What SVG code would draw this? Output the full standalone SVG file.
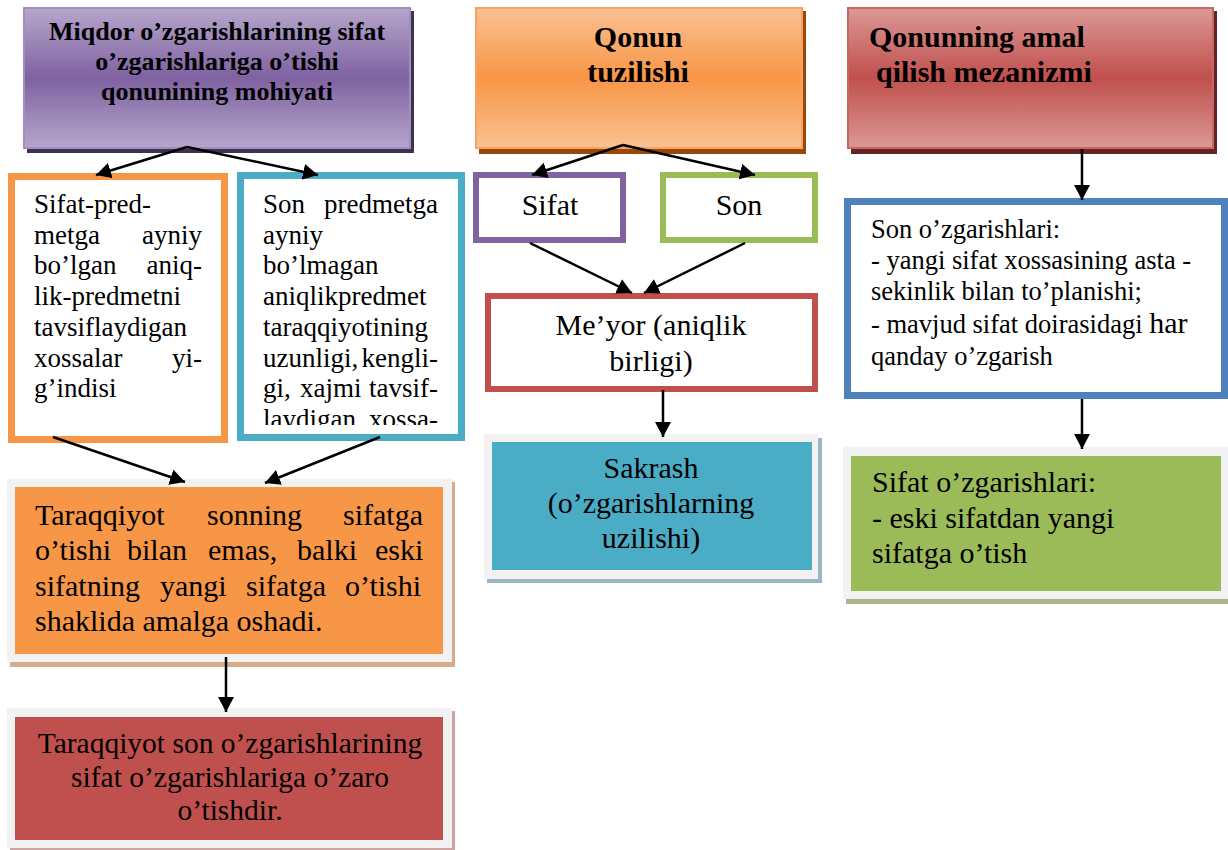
<svg xmlns="http://www.w3.org/2000/svg" width="1228" height="850" viewBox="0 0 1228 850">
<defs>
<style>
text{font-family:"Liberation Serif","Times New Roman",serif;fill:#000}
.b{font-weight:bold}
.t27{font-size:27px}
.t30{font-size:30px}
.c{text-anchor:middle}
.e{text-anchor:end}
.conn path{fill:none;stroke:#000;stroke-width:2.5;marker-end:url(#ah)}
</style>
<linearGradient id="gP" x1="0" y1="0" x2="0" y2="1"><stop offset="0" stop-color="#B6A6CB"/><stop offset="0.5" stop-color="#7F62A1"/><stop offset="1" stop-color="#B6A6CB"/></linearGradient>
<linearGradient id="gO" x1="0" y1="0" x2="0" y2="1"><stop offset="0" stop-color="#FAC192"/><stop offset="0.5" stop-color="#F79646"/><stop offset="1" stop-color="#FAC192"/></linearGradient>
<linearGradient id="gR" x1="0" y1="0" x2="0" y2="1"><stop offset="0" stop-color="#DB9896"/><stop offset="0.5" stop-color="#C0504D"/><stop offset="1" stop-color="#DB9896"/></linearGradient>
<marker id="ah" markerUnits="userSpaceOnUse" markerWidth="16" markerHeight="16" refX="15" refY="8" orient="auto"><path d="M0,0 L15,8 L0,16 z" fill="#000"/></marker>
<clipPath id="clipSon"><rect x="240" y="160" width="225" height="265"/></clipPath>
</defs>

<g id="n-mohiyat">
<rect x="27" y="11" width="387" height="142" fill="#3F3151"/>
<rect x="24" y="8" width="386" height="140" fill="url(#gP)" stroke="#A28DBF" stroke-width="2"/>
<text class="b c" style="font-size:26px" x="217" y="40">Miqdor o’zgarishlarining sifat</text>
<text class="b c" style="font-size:26px" x="217" y="70">o’zgarishlariga o’tishi</text>
<text class="b c" style="font-size:26px" x="217" y="100">qonunining mohiyati</text>
</g>

<g id="n-tuzilishi">
<rect x="479" y="11" width="327" height="143" fill="#984807"/>
<rect x="476" y="8" width="326" height="140" fill="url(#gO)" stroke="#F7A262" stroke-width="2"/>
<text class="b c t30" x="638" y="47">Qonun</text>
<text class="b c t30" x="638" y="82">tuzilishi</text>
</g>

<g id="n-mexanizm">
<rect x="851" y="11" width="366" height="143" fill="#632523"/>
<rect x="848" y="8" width="365" height="140" fill="url(#gR)" stroke="#C96563" stroke-width="2"/>
<text class="b t30" x="869" y="47">Qonunning amal</text>
<text class="b t30" x="876" y="82">qilish mezanizmi</text>
</g>

<g id="n-sifat-pred">
<rect x="11.5" y="176.5" width="213" height="263" fill="#fff" stroke="#F79646" stroke-width="7"/>
<text class="t27" x="34" y="213">Sifat-pred-</text>
<text class="t27" x="34" y="243.7">metga</text><text class="t27 e" x="202" y="243.7">ayniy</text>
<text class="t27" x="34" y="274.4">bo’lgan</text><text class="t27 e" x="202" y="274.4">aniq-</text>
<text class="t27" x="34" y="305.1">lik-predmetni</text>
<text class="t27" x="34" y="335.8">tavsiflaydigan</text>
<text class="t27" x="34" y="366.5">xossalar</text><text class="t27 e" x="202" y="366.5">yi-</text>
<text class="t27" x="34" y="397.2">g’indisi</text>
</g>

<g id="n-son-pred">
<rect x="240.5" y="175.5" width="221" height="262" fill="#fff" stroke="#4BACC6" stroke-width="7"/>
<g clip-path="url(#clipSon)">
<text class="t27" x="263" y="213">Son</text><text class="t27 e" x="438" y="213">predmetga</text>
<text class="t27" x="263" y="243.7">ayniy</text>
<text class="t27" x="263" y="274.4">bo’lmagan</text>
<text class="t27" x="263" y="305.1">aniqlikpredmet</text>
<text class="t27" x="263" y="335.8">taraqqiyotining</text>
<text class="t27" x="263" y="366.5">uzunligi,</text><text class="t27 e" x="438" y="366.5">kengli-</text>
<text class="t27" x="263" y="397.2">gi,</text><text class="t27" x="300" y="397.2">xajmi</text><text class="t27 e" x="438" y="397.2">tavsif-</text>
<text class="t27" x="263" y="427.9">laydigan</text><text class="t27 e" x="438" y="427.9">xossa-</text>
</g>
</g>

<g id="n-taraqqiyot1">
<rect x="10" y="482" width="445" height="185" fill="#D6AC8A"/>
<rect x="7" y="479" width="445" height="183" fill="#F2F2F2"/>
<rect x="15" y="487" width="428" height="167" fill="#F79646"/>
<text class="t30" y="525"><tspan x="35">Taraqqiyot</tspan><tspan x="207">sonning</tspan><tspan x="343">sifatga</tspan></text>
<text class="t30" y="560"><tspan x="35">o’tishi</tspan><tspan x="127">bilan</tspan><tspan x="208">emas,</tspan><tspan x="297">balki</tspan><tspan x="375">eski</tspan></text>
<text class="t30" y="595.5"><tspan x="35">sifatning</tspan><tspan x="160">yangi</tspan><tspan x="246">sifatga</tspan><tspan x="345">o’tishi</tspan></text>
<text class="t30" x="35" y="631">shaklida amalga oshadi.</text>
</g>

<g id="n-taraqqiyot2">
<rect x="10" y="711" width="445" height="139" fill="#CDA3A3"/>
<rect x="7" y="708" width="445" height="140" fill="#F2F2F2"/>
<rect x="15" y="717" width="428" height="123" fill="#C0504D"/>
<text class="c" style="font-size:29.5px" x="230" y="753">Taraqqiyot son o’zgarishlarining</text>
<text class="c" style="font-size:29.5px" x="230" y="787">sifat o’zgarishlariga o’zaro</text>
<text class="c" style="font-size:29.5px" x="230" y="820">o’tishdir.</text>
</g>

<g id="n-sifat">
<rect x="476" y="175" width="147" height="65" fill="#fff" stroke="#8064A2" stroke-width="6"/>
<text class="t30 c" x="550" y="215">Sifat</text>
</g>

<g id="n-son">
<rect x="663" y="175" width="152" height="65" fill="#fff" stroke="#9BBB59" stroke-width="6"/>
<text class="t30 c" x="739" y="215">Son</text>
</g>

<g id="n-meyor">
<rect x="488" y="296" width="327" height="93" fill="#fff" stroke="#C0504D" stroke-width="6"/>
<text class="t30 c" x="651" y="335">Me’yor (aniqlik</text>
<text class="t30 c" x="651" y="371">birligi)</text>
</g>

<g id="n-sakrash">
<rect x="487" y="438" width="335" height="145" fill="#9DB6C1"/>
<rect x="484" y="434" width="334" height="145" fill="#F2F2F2"/>
<rect x="492" y="442" width="320" height="128" fill="#4BACC6"/>
<text class="t30 c" x="651" y="478">Sakrash</text>
<text class="t30 c" x="651" y="513">(o’zgarishlarning</text>
<text class="t30 c" x="651" y="548">uzilishi)</text>
</g>

<g id="n-son-ozg">
<rect x="847.5" y="201.5" width="377" height="194" fill="#fff" stroke="#4F81BD" stroke-width="7"/>
<text style="font-size:26.5px" x="871" y="238">Son o’zgarishlari:</text>
<text style="font-size:26.5px" x="871" y="269">- yangi sifat xossasining asta -</text>
<text style="font-size:26.5px" x="871" y="300">sekinlik bilan to’planishi;</text>
<text style="font-size:26.5px" x="871" y="333">- mavjud sifat doirasidagi <tspan style="font-size:30px">har</tspan></text>
<text style="font-size:26.5px" x="871" y="365">qanday o’zgarish</text>
</g>

<g id="n-sifat-ozg">
<rect x="846" y="451" width="382" height="153" fill="#ABB592"/>
<rect x="843" y="447" width="385" height="152" fill="#F2F2F2"/>
<rect x="851" y="456" width="370" height="135" fill="#9BBB59"/>
<text class="t30" x="872" y="492">Sifat o’zgarishlari:</text>
<text class="t30" x="872" y="528">- eski sifatdan yangi</text>
<text class="t30" x="872" y="563">sifatga o’tish</text>
</g>

<g id="connectors" class="conn">
<path d="M187,147 L96,175"/>
<path d="M187,147 L318,175"/>
<path d="M53,437 L185,482"/>
<path d="M380,437 L265,483"/>
<path d="M226,657 L226,712"/>
<path d="M623,145 L532,175"/>
<path d="M623,145 L755,175"/>
<path d="M530,243 L632,293"/>
<path d="M745,243 L644,293"/>
<path d="M663,390 L663,437"/>
<path d="M1082,149 L1082,200"/>
<path d="M1082,399 L1082,449"/>
</g>
</svg>
